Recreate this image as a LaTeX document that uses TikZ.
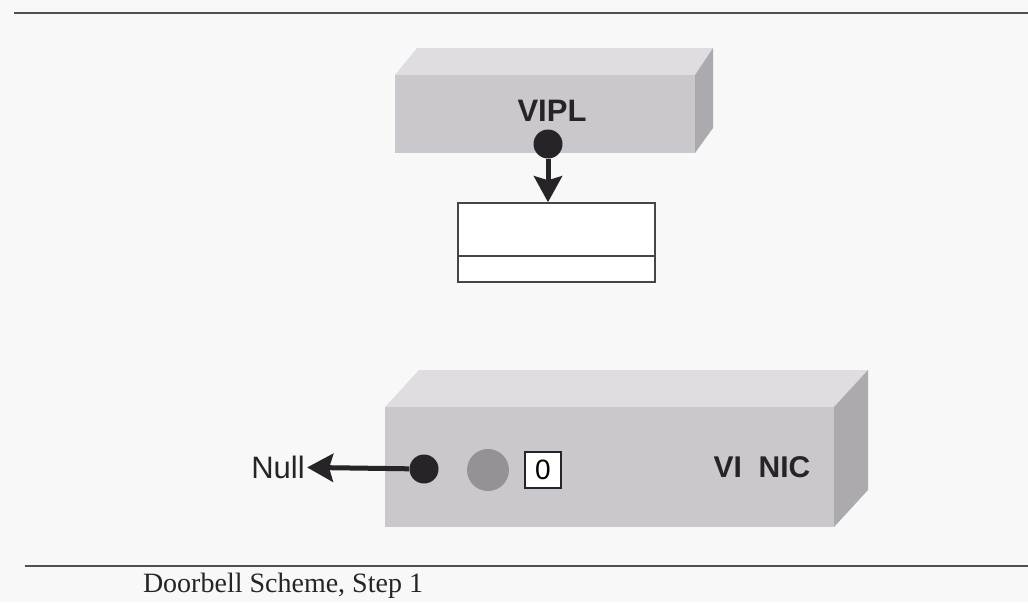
\documentclass[tikz,border=0pt]{standalone}
\usepackage{fontspec}
\setmainfont{Liberation Serif}
\setsansfont{Liberation Sans}
\usetikzlibrary{arrows.meta}

\definecolor{paper}{RGB}{248,248,248}
\definecolor{slabfront}{RGB}{202,200,205}
\definecolor{slabtop}{RGB}{223,221,225}
\definecolor{slabside}{RGB}{172,169,175}
\definecolor{ink}{RGB}{38,36,40}
\definecolor{bell}{RGB}{150,145,151}
\definecolor{rulegray}{RGB}{80,80,80}

\tikzset{
  ptr/.style={circle, fill=ink, inner sep=0pt, minimum size=14.5pt},
  link/.style={-{Stealth[length=13pt,width=14pt,inset=2pt]}, line width=2.5pt, draw=ink},
  slabtext/.style={font=\sffamily\bfseries\fontsize{15.5}{16}\selectfont, text=ink, inner sep=0pt},
  rule/.style={line width=1.3pt, draw=rulegray}
}

\begin{document}
\begin{tikzpicture}[x=0.5pt, y=-0.5pt]
    \fill[paper] (0,0) rectangle (1028,602);
    \useasboundingbox (0,0) rectangle (1028,602);

    % page rules
    \draw[rule] (14,13) -- (1028,13);
    \draw[rule] (25,566) -- (1028,566);

    % VIPL slab
    \fill[slabtop] (395,75) -- (417,48) -- (713,48) -- (695,75) -- cycle;
    \fill[slabside] (695,75) -- (713,48) -- (713,128) -- (695,153) -- cycle;
    \fill[slabfront] (395,75) rectangle (695,153);
    \node[slabtext] (vipl) at (552,111) {VIPL};
    \node[ptr] (viplptr) at (548,144) {};

    % descriptor queue
    \node[draw=ink!85, line width=0.8pt, fill=white, inner sep=0pt,
          minimum width=98.5pt, minimum height=39.5pt] (queue) at (556.5,242.5) {};
    \draw[ink!85, line width=0.8pt] ([yshift=13.5pt]queue.south west) -- ([yshift=13.5pt]queue.south east);
    \draw[link] (viplptr) -- (viplptr |- queue.north);

    % VI NIC slab
    \fill[slabtop] (385,407) -- (419,370) -- (868,370) -- (834,407) -- cycle;
    \fill[slabside] (834,407) -- (868,370) -- (868,490) -- (834,527) -- cycle;
    \fill[slabfront] (385,407) rectangle (834,527);
    \node[slabtext, font=\sffamily\bfseries\fontsize{15}{15}\selectfont] (nic) at (762,467) {VI\ \ NIC};
    \node[ptr] (nicptr) at (424,469) {};
    \node[circle, fill=bell, inner sep=0pt, minimum size=21pt] (bell) at (488,470) {};
    \node[draw=ink, line width=0.7pt, fill=white, inner sep=0pt, minimum size=18pt,
          font=\sffamily\fontsize{14}{14}\selectfont] (count) at (543,470) {0};

    \node[font=\sffamily\fontsize{15.5}{16}\selectfont, text=ink, inner sep=1pt] (null) at (278,467) {Null};
    \draw[link] (nicptr) -- (null);

    \node[font=\fontsize{14}{15}\selectfont, text=ink] (caption) at (283,586) {Doorbell Scheme, Step 1};
\end{tikzpicture}
\end{document}
